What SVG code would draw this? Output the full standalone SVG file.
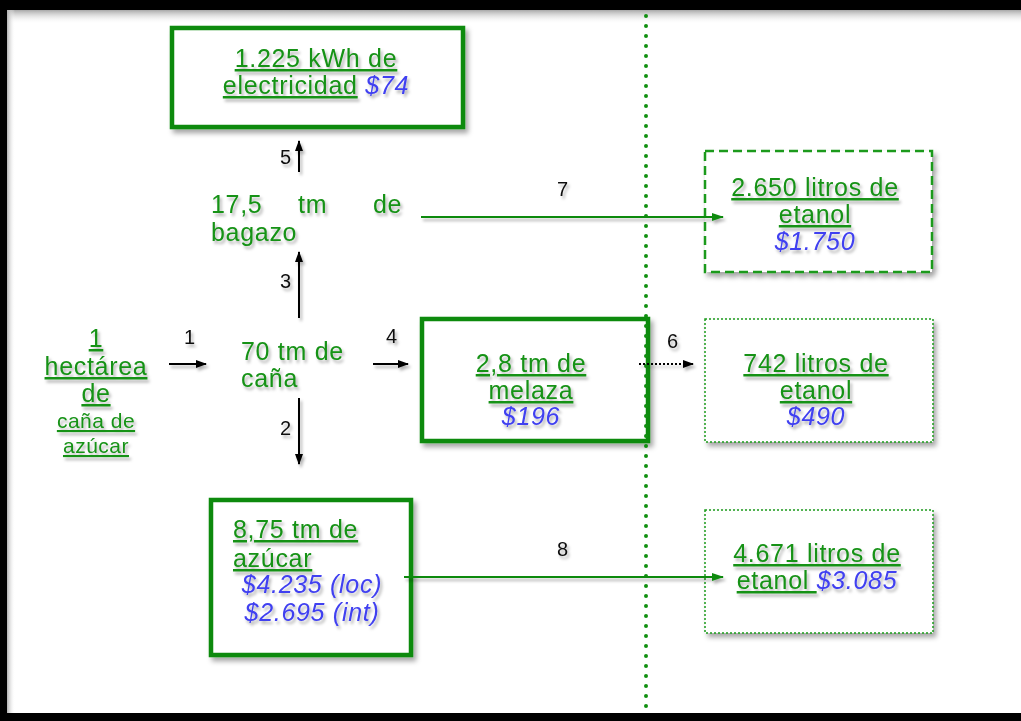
<svg xmlns="http://www.w3.org/2000/svg" width="1021" height="721" viewBox="0 0 1021 721">
<defs>
<linearGradient id="gTop" x1="0" y1="0" x2="0" y2="1"><stop offset="0" stop-color="#a8a8a8"/><stop offset="1" stop-color="#ffffff" stop-opacity="0"/></linearGradient>
<linearGradient id="gLeft" x1="0" y1="0" x2="1" y2="0"><stop offset="0" stop-color="#b0b0b0"/><stop offset="1" stop-color="#ffffff" stop-opacity="0"/></linearGradient>
<filter id="sh" x="-10%" y="-20%" width="130%" height="150%"><feDropShadow dx="3" dy="4" stdDeviation="2.5" flood-color="#000" flood-opacity="0.35"/></filter>
<filter id="tsh" x="-10%" y="-30%" width="130%" height="170%"><feDropShadow dx="2" dy="3" stdDeviation="1.8" flood-color="#000" flood-opacity="0.3"/></filter>
<marker id="ak" markerWidth="11" markerHeight="10" refX="10" refY="5" orient="auto" markerUnits="userSpaceOnUse"><path d="M0,1 L11,5 L0,9 Z" fill="#000"/></marker>
<marker id="ag" markerWidth="12" markerHeight="10" refX="11" refY="5" orient="auto" markerUnits="userSpaceOnUse"><path d="M0,1 L12,5 L0,9 Z" fill="#118a11"/></marker>
<style>
.t{font-family:"Liberation Sans",Arial,sans-serif;font-size:25px;letter-spacing:0.7px;fill:#169216}
.u{text-decoration:underline}
.s{font-size:21px;letter-spacing:0.5px}
.b{font-family:"Liberation Sans",Arial,sans-serif;font-size:25px;letter-spacing:0.7px;font-style:italic;fill:#4040f0}
.n{font-family:"Liberation Sans",Arial,sans-serif;font-size:20px;fill:#111}
.solid{fill:#fff;stroke:#0c8a0c;stroke-width:4.5}
.dash{fill:#fff;stroke:#1a9a1a;stroke-width:2.5;stroke-dasharray:9 5}
.dot{fill:#fff;stroke:#1a9a1a;stroke-width:1.5;stroke-dasharray:2 2}
.ab{stroke:#000;stroke-width:2;fill:none}
.ag{stroke:#118a11;stroke-width:2;fill:none}
</style>
</defs>
<rect width="1021" height="721" fill="#fff"/>
<rect x="7" y="10" width="1014" height="14" fill="url(#gTop)"/>
<rect x="7" y="10" width="8" height="703" fill="url(#gLeft)"/>
<rect x="0" y="0" width="1021" height="10" fill="#000"/>
<rect x="0" y="0" width="7" height="721" fill="#000"/>
<rect x="0" y="713" width="1021" height="8" fill="#000"/>

<g id="elec">
<rect class="solid" x="172" y="28" width="291" height="99" filter="url(#sh)"/>
<g filter="url(#tsh)">
<text class="t" text-anchor="middle"><tspan class="u" x="316" y="67">1.225 kWh de</tspan><tspan x="316" y="94"><tspan class="u">electricidad</tspan> <tspan class="b">$74</tspan></tspan></text>
</g>
</g>

<g id="bagazo" filter="url(#tsh)">
<text class="t" x="211" y="213">17,5</text>
<text class="t" x="298" y="213">tm</text>
<text class="t" x="373" y="213">de</text>
<text class="t" x="211" y="241">bagazo</text>
</g>

<g id="etanol1">
<rect class="dash" x="705" y="151" width="227" height="121" filter="url(#sh)"/>
<g filter="url(#tsh)">
<text class="t" text-anchor="middle"><tspan class="u" x="815" y="196">2.650 litros de</tspan><tspan class="u" x="815" y="223">etanol</tspan></text>
<text class="b" text-anchor="middle" x="815" y="250">$1.750</text>
</g>
</g>

<g id="hectarea" filter="url(#tsh)">
<text class="t u" text-anchor="middle"><tspan x="96" y="347">1</tspan><tspan x="96" y="375">hectárea</tspan><tspan x="96" y="402">de</tspan><tspan class="s" x="96" y="428">caña de</tspan><tspan class="s" x="96" y="453">azúcar</tspan></text>
</g>

<g id="cana" filter="url(#tsh)">
<text class="t" x="241" y="360">70 tm de</text>
<text class="t" x="241" y="387">caña</text>
</g>

<g id="melaza">
<rect class="solid" x="422" y="319" width="226" height="122" filter="url(#sh)"/>
<g filter="url(#tsh)">
<text class="t u" text-anchor="middle"><tspan x="531" y="372">2,8 tm de</tspan><tspan x="531" y="399">melaza</tspan></text>
<text class="b" text-anchor="middle" x="531" y="425">$196</text>
</g>
</g>

<g id="etanol2">
<rect class="dot" x="705" y="319" width="228" height="123" filter="url(#sh)"/>
<g filter="url(#tsh)">
<text class="t u" text-anchor="middle"><tspan x="816" y="372">742 litros de</tspan><tspan x="816" y="399">etanol</tspan></text>
<text class="b" text-anchor="middle" x="816" y="425">$490</text>
</g>
</g>

<g id="azucar">
<rect class="solid" x="211" y="500" width="200" height="155" filter="url(#sh)"/>
<g filter="url(#tsh)">
<text class="t u"><tspan x="233" y="538">8,75 tm de</tspan><tspan x="233" y="567">azúcar</tspan></text>
<text class="b" text-anchor="middle"><tspan x="312" y="593">$4.235 (loc)</tspan><tspan x="312" y="621">$2.695 (int)</tspan></text>
</g>
</g>

<g id="etanol3">
<rect class="dot" x="705" y="510" width="228" height="123" filter="url(#sh)"/>
<g filter="url(#tsh)">
<text class="t" text-anchor="middle"><tspan class="u" x="817" y="562">4.671 litros de</tspan><tspan x="817" y="589"><tspan class="u">etanol </tspan><tspan class="b">$3.085</tspan></tspan></text>
</g>
</g>

<g id="connectors">
<line x1="646" y1="16" x2="646" y2="712" stroke="#109010" stroke-width="4" stroke-linecap="round" stroke-dasharray="0 10"/>
<g filter="url(#tsh)">
<line class="ab" x1="299" y1="172" x2="299" y2="141" marker-end="url(#ak)"/>
<line class="ab" x1="299" y1="318" x2="299" y2="252" marker-end="url(#ak)"/>
<line class="ab" x1="299" y1="398" x2="299" y2="464" marker-end="url(#ak)"/>
<line class="ab" x1="169" y1="364" x2="206" y2="364" marker-end="url(#ak)"/>
<line class="ab" x1="373" y1="364" x2="408" y2="364" marker-end="url(#ak)"/>
<line class="ab" x1="639" y1="364" x2="693" y2="364" stroke-dasharray="2 2" marker-end="url(#ak)"/>
<line class="ag" x1="421" y1="217" x2="723" y2="217" marker-end="url(#ag)"/>
<line class="ag" x1="404" y1="577" x2="723" y2="577" marker-end="url(#ag)"/>
<text class="n" x="280" y="164">5</text>
<text class="n" x="280" y="288">3</text>
<text class="n" x="280" y="435">2</text>
<text class="n" x="184" y="344">1</text>
<text class="n" x="386" y="343">4</text>
<text class="n" x="667" y="348">6</text>
<text class="n" x="557" y="196">7</text>
<text class="n" x="557" y="556">8</text>
</g>
</g>
</svg>
